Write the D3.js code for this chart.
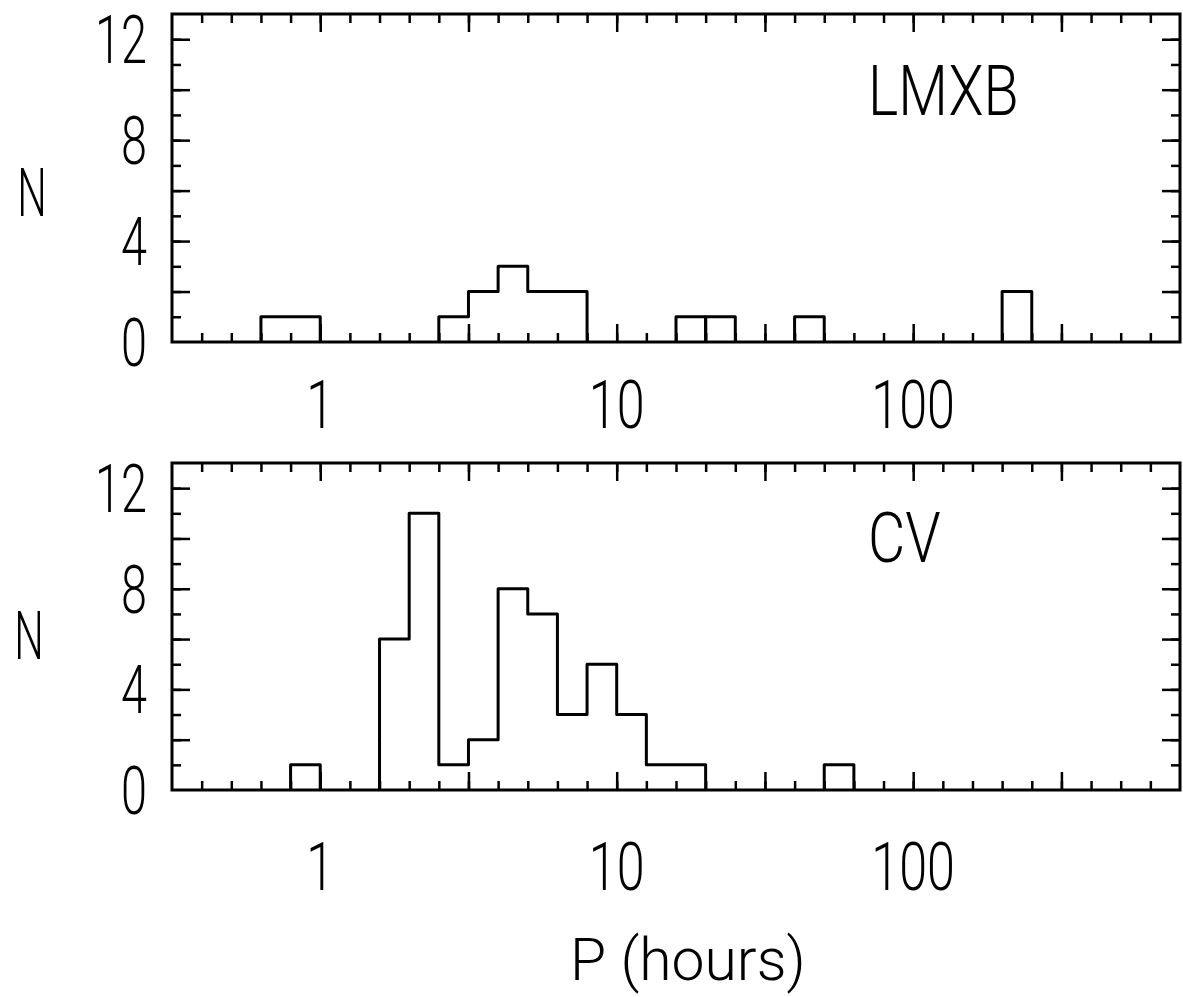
<!DOCTYPE html>
<html>
<head>
<meta charset="utf-8">
<script src="https://cdn.jsdelivr.net/npm/d3@7"></script>
<style>
body { margin: 0; background: #fff; }
text { font-family: Roboto, "Liberation Sans", sans-serif; font-weight: 300; fill: #000; }
</style>
</head>
<body>
<div id="chart"></div>
<script>
//Period histograms, bins are 0.1 wide in log10(P / hours), value = lower edge of bin
var binWidth = 0.1;

var lmxbBins = [-0.2, -0.1, 0.4, 0.5, 0.6, 0.7, 0.8, 1.2, 1.3, 1.6, 2.3];
var lmxbCounts = [1, 1, 1, 2, 3, 2, 2, 1, 1, 1, 2];
var lmxbBreaks = [1.3]; //outline goes back to the baseline here

var cvBins = [-0.1, 0.2, 0.3, 0.4, 0.5, 0.6, 0.7, 0.8, 0.9, 1.0, 1.1, 1.2, 1.7];
var cvCounts = [1, 6, 11, 1, 2, 8, 7, 3, 5, 3, 1, 1, 1];
var cvBreaks = [];

//Axis labels
var xTickLabels = [1, 10, 100];
var yTickLabels = [0, 4, 8, 12];
var panelNames = ["LMXB", "CV"];

//Setting width and height
var w = 1183;
var h = 997;
var left = 172;
var right = 1180;

var panels = [
    {name: panelNames[0], bins: lmxbBins, counts: lmxbCounts, breaks: lmxbBreaks,
     top: 14, bottom: 342, xLabelY: 428, nY: 216, nX: 32},
    {name: panelNames[1], bins: cvBins, counts: cvCounts, breaks: cvBreaks,
     top: 463, bottom: 790, xLabelY: 890, nY: 659, nX: 29}
];

var svg = d3.select("#chart")
            .append("svg")
            .attr("width", w)
            .attr("height", h)
            .style("background", "#fff");

//log x scale, from 10^-0.5 to 10^2.9 hours
var xscale = d3.scaleLog()
                .domain([Math.pow(10, -0.5), Math.pow(10, 2.9)])
                .range([left, right]);

//tick every 0.1 dex, long ones every 0.5 dex
var allTicks = d3.range(-4, 29).map(i => Math.pow(10, i / 10));
var bigTicks = d3.range(-4, 29).filter(i => i % 5 == 0).map(i => Math.pow(10, i / 10));

//text helper, the old plotter font is narrow so squash it sideways
function label(x, y, txt, size, sx, anchor)
{
    svg.append("text")
        .attr("transform", "translate(" + x + "," + y + ") scale(" + sx + ",1)")
        .attr("text-anchor", anchor)
        .style("font-size", size + "px")
        .text(txt);
}

//cleans up an axis group: no domain line, no text, thicker ticks
function tidy(g)
{
    g.select(".domain").remove();
    g.selectAll("text").remove();
    g.selectAll("line").attr("stroke", "#000").attr("stroke-width", 2.5);
}

panels.forEach(function(p)
{
    var yscale = d3.scaleLinear()
                    .domain([0, 13])
                    .range([p.bottom, p.top]);

    var ph = p.bottom - p.top;
    var pw = right - left;

    //x ticks on bottom and top, pointing inward
    [[allTicks, 9], [bigTicks, 18]].forEach(function(t)
    {
        svg.append("g")
            .attr("transform", "translate(0," + p.bottom + ")")
            .call(d3.axisBottom(xscale).tickValues(t[0]).tickSize(-t[1]).tickFormat(""))
            .call(tidy);
        svg.append("g")
            .attr("transform", "translate(0," + p.top + ")")
            .call(d3.axisTop(xscale).tickValues(t[0]).tickSize(-t[1]).tickFormat(""))
            .call(tidy);
    });

    //y ticks every 1, long on the even numbers
    [[d3.range(1, 13), 9], [d3.range(2, 13, 2), 18]].forEach(function(t)
    {
        svg.append("g")
            .attr("transform", "translate(" + left + ",0)")
            .call(d3.axisLeft(yscale).tickValues(t[0]).tickSize(-t[1]).tickFormat(""))
            .call(tidy);
        svg.append("g")
            .attr("transform", "translate(" + right + ",0)")
            .call(d3.axisRight(yscale).tickValues(t[0]).tickSize(-t[1]).tickFormat(""))
            .call(tidy);
    });

    //frame
    svg.append("rect")
        .attr("x", left)
        .attr("y", p.top)
        .attr("width", pw)
        .attr("height", ph)
        .attr("fill", "none")
        .attr("stroke", "#000")
        .attr("stroke-width", 3);

    //split the bins into runs that touch, each run gets its own step outline
    var runs = [];
    var cur = null;
    p.bins.forEach(function(b, i)
    {
        var joined = cur && Math.abs(cur.end - b) < 1e-6 && p.breaks.indexOf(b) < 0;
        if (!joined)
        {
            cur = {pts: [{v: b, n: 0}], end: b};
            runs.push(cur);
        }
        cur.pts.push({v: b, n: p.counts[i]});
        cur.pts.push({v: b + binWidth, n: p.counts[i]});
        cur.end = b + binWidth;
    });
    runs.forEach(r => r.pts.push({v: r.end, n: 0}));

    var step = d3.line()
                .x(d => xscale(Math.pow(10, d.v)))
                .y(d => yscale(d.n));

    svg.selectAll(null)
        .data(runs)
        .enter()
        .append("path")
        .attr("d", d => step(d.pts))
        .attr("fill", "none")
        .attr("stroke", "#000")
        .attr("stroke-width", 3)
        .attr("stroke-linejoin", "round");

    //tick labels
    yTickLabels.forEach(v => label(147, yscale(v) + 24, v, 67, 0.7, "end"));
    xTickLabels.forEach(v => label(xscale(v), p.xLabelY, v, 67, 0.75, "middle"));

    //N label and panel name
    label(p.nX, p.nY, "N", 67, 0.62, "middle");
    label(868, p.top + (p.name == "CV" ? 99 : 101), p.name, 70, 0.82, "start");
});

//x axis title
label(570, 980, "P (hours)", 60, 0.98, "start");
</script>
</body>
</html>
